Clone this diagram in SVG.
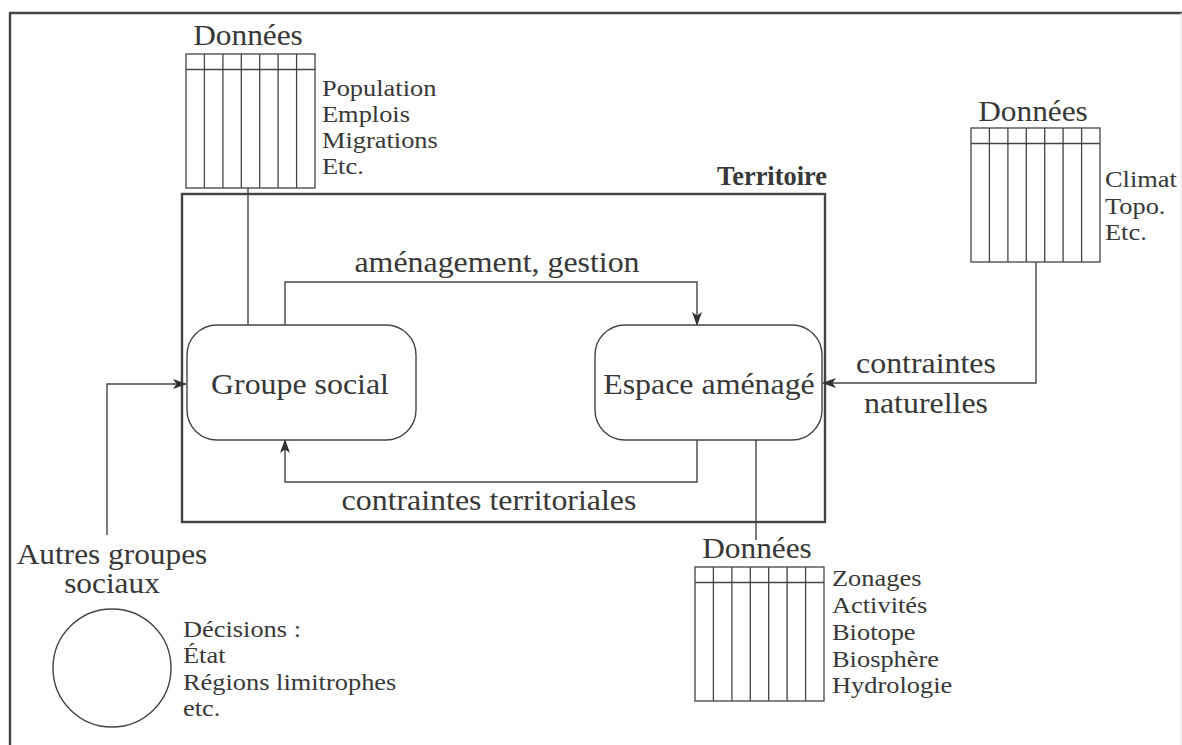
<svg xmlns="http://www.w3.org/2000/svg" width="1182" height="745" viewBox="0 0 1182 745">
  <style>
    .txt { font-family: "Liberation Serif", "Times New Roman", serif; fill: #383838; }
    .big { font-size: 29px; }
    .mid { font-size: 28.5px; }
    .small { font-size: 24px; }
    .bold { font-size: 27px; font-weight: bold; }
    .mc { text-anchor: middle; }
    .end { text-anchor: end; }
    .frame { fill: none; stroke: #444; stroke-width: 2.4; }
    .node { fill: #fff; stroke: #444; stroke-width: 1.4; }
    .grid { fill: none; stroke: #444; stroke-width: 1.3; }
    .wire { fill: none; stroke: #444; stroke-width: 1.4; }
  </style>
  <defs>
    <marker id="arrow" viewBox="0 0 14 10" refX="13" refY="5" markerWidth="14" markerHeight="10" markerUnits="userSpaceOnUse" orient="auto">
      <path d="M0,0 L14,5 L0,10 L3.5,5 z" fill="#333"/>
    </marker>
    <!-- 7-column data table with a header row -->
    <g id="table">
      <rect x="0" y="0" width="129" height="134" class="grid"/>
      <line x1="0" y1="15.5" x2="129" y2="15.5" class="grid"/>
      <line x1="18.4" y1="0" x2="18.4" y2="134" class="grid"/>
      <line x1="36.9" y1="0" x2="36.9" y2="134" class="grid"/>
      <line x1="55.3" y1="0" x2="55.3" y2="134" class="grid"/>
      <line x1="73.7" y1="0" x2="73.7" y2="134" class="grid"/>
      <line x1="92.1" y1="0" x2="92.1" y2="134" class="grid"/>
      <line x1="110.6" y1="0" x2="110.6" y2="134" class="grid"/>
    </g>
  </defs>

  <rect width="1182" height="745" fill="#fff"/>

  <!-- page frame -->
  <path d="M10,745 V13 H1182" class="frame"/>
  <line x1="1181" y1="13" x2="1181" y2="745" stroke="#e4e4e4" stroke-width="1"/>

  <!-- territory boundary -->
  <g id="territoire">
    <rect x="182" y="194" width="643" height="328" class="frame"/>
    <text class="txt bold" x="717" y="185" textLength="110" lengthAdjust="spacingAndGlyphs">Territoire</text>
  </g>

  <!-- connectors -->
  <g id="connectors">
    <line x1="248" y1="188" x2="248" y2="325" class="wire"/>
    <path d="M285,325 V282 H697 V325" class="wire" marker-end="url(#arrow)"/>
    <path d="M697,440 V482 H285 V440" class="wire" marker-end="url(#arrow)"/>
    <line x1="756" y1="440" x2="756" y2="540" class="wire"/>
    <path d="M1036,262 V383 H823" class="wire" marker-end="url(#arrow)"/>
    <path d="M107,535 V384 H186" class="wire" marker-end="url(#arrow)"/>
  </g>

  <!-- connector labels -->
  <g id="labels">
    <text class="txt big mc" transform="translate(497,272) scale(1.1,1)">aménagement, gestion</text>
    <text class="txt big mc" transform="translate(489,510) scale(1.1,1)">contraintes territoriales</text>
    <text class="txt big mc" transform="translate(926,373) scale(1.1,1)">contraintes</text>
    <text class="txt big mc" transform="translate(926,413) scale(1.1,1)">naturelles</text>
  </g>

  <g id="groupe-social">
    <rect x="187" y="325" width="229" height="115" rx="30" class="node"/>
    <text class="txt big mc" transform="translate(300,394) scale(1.1,1)">Groupe social</text>
  </g>

  <g id="espace-amenage">
    <rect x="595" y="325" width="227" height="115" rx="30" class="node"/>
    <text class="txt big mc" transform="translate(709,394) scale(1.1,1)">Espace aménagé</text>
  </g>

  <g id="donnees-sociales">
    <text class="txt mid mc" transform="translate(248,45) scale(1.1,1)">Données</text>
    <use href="#table" x="186" y="54"/>
    <text class="txt small" transform="translate(322,96) scale(1.1,1)">Population</text>
    <text class="txt small" transform="translate(322,122) scale(1.1,1)">Emplois</text>
    <text class="txt small" transform="translate(322,148) scale(1.1,1)">Migrations</text>
    <text class="txt small" transform="translate(322,174) scale(1.1,1)">Etc.</text>
  </g>

  <g id="donnees-naturelles">
    <text class="txt mid mc" transform="translate(1033,121) scale(1.1,1)">Données</text>
    <use href="#table" x="971" y="128"/>
    <text class="txt small" transform="translate(1105,187) scale(1.1,1)">Climat</text>
    <text class="txt small" transform="translate(1105,213.5) scale(1.1,1)">Topo.</text>
    <text class="txt small" transform="translate(1105,240) scale(1.1,1)">Etc.</text>
  </g>

  <g id="donnees-espace">
    <text class="txt mid mc" transform="translate(757,558) scale(1.1,1)">Données</text>
    <use href="#table" x="695" y="567"/>
    <text class="txt small" transform="translate(832,586) scale(1.1,1)">Zonages</text>
    <text class="txt small" transform="translate(832,613) scale(1.1,1)">Activités</text>
    <text class="txt small" transform="translate(832,640) scale(1.1,1)">Biotope</text>
    <text class="txt small" transform="translate(832,667) scale(1.1,1)">Biosphère</text>
    <text class="txt small" transform="translate(832,693) scale(1.1,1)">Hydrologie</text>
  </g>

  <g id="autres-groupes">
    <text class="txt mid mc" transform="translate(112,564) scale(1.1,1)">Autres groupes</text>
    <text class="txt mid mc" transform="translate(112,593) scale(1.1,1)">sociaux</text>
    <circle cx="112" cy="668" r="59" class="node"/>
    <text class="txt small" transform="translate(183,637) scale(1.1,1)">Décisions :</text>
    <text class="txt small" transform="translate(183,663) scale(1.1,1)">État</text>
    <text class="txt small" transform="translate(183,690) scale(1.1,1)">Régions limitrophes</text>
    <text class="txt small" transform="translate(183,716) scale(1.1,1)">etc.</text>
  </g>
</svg>
